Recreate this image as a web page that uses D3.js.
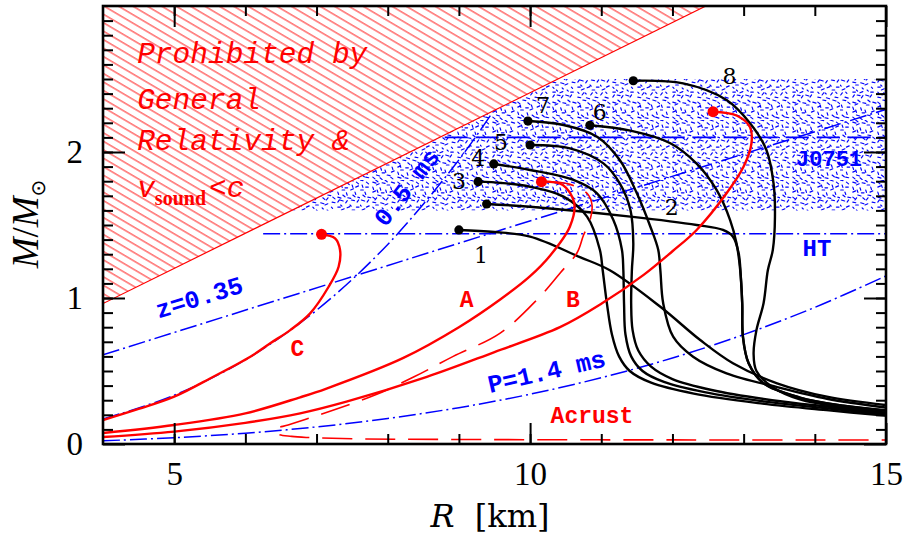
<!DOCTYPE html>
<html>
<head>
<meta charset="utf-8">
<script src="https://cdn.jsdelivr.net/npm/d3@7"></script>
<style>
  body { margin: 0; background: #fff; }
  svg { display: block; }
</style>
</head>
<body>
<svg id="chart" width="906" height="537"></svg>
<script>
// ---- data (R in km, M in solar masses) ----
var xDomain = [4, 15];
var yDomain = [0, 3];
var xTicks = [5, 10, 15];
var yTicks = [0, 1, 2];

// causality / GR limit line
var grLimit = [[4, 0.962], [12.47, 3.0]];
// J0751 mass band and marks
var bandM = [1.6, 2.5];
var j0751Line = [[8.8, 2.1], [15, 2.1]];
var htLine = [[6.25, 1.44], [15, 1.44]];

// redshift and spin limits
var z035 = [[4, 0.611], [15, 2.292]];
var p05 = [[4, 0.171], [5, 0.334], [6, 0.577], [7, 0.916], [8, 1.367], [9, 1.946], [9.47, 2.27]];
var p14 = [[4, 0.022], [5, 0.043], [6, 0.074], [7, 0.117], [8, 0.175], [9, 0.249], [10, 0.341],
           [11, 0.454], [12, 0.589], [13, 0.749], [14, 0.936], [15, 1.151]];

// neutron star EOS curves, first point = maximum mass
var eos1 = [[9.0, 1.466], [9.5, 1.452], [10.0, 1.42], [10.7, 1.28], [11.12, 1.19], [11.83, 0.94],
            [12.39, 0.712], [12.85, 0.553], [13.47, 0.416], [14.17, 0.324], [14.99, 0.267]];
var eos2 = [[9.39, 1.644], [10.0, 1.625], [11.41, 1.557], [12.34, 1.5], [12.71, 1.466], [12.85, 1.42],
            [12.93, 1.306], [12.96, 1.15], [12.98, 0.964], [12.99, 0.735], [13.07, 0.553],
            [13.28, 0.416], [13.79, 0.318], [14.4, 0.262], [14.99, 0.232]];
var eos3 = [[9.27, 1.797], [9.6, 1.788], [10.0, 1.762], [10.47, 1.694], [10.8, 1.557], [10.98, 1.33],
            [11.02, 1.19], [11.08, 0.96], [11.15, 0.75], [11.25, 0.6], [11.4, 0.5], [11.7, 0.42],
            [12.3, 0.345], [13.2, 0.28], [14.2, 0.23], [14.99, 0.195]];
var eos4 = [[9.49, 1.918], [10.0, 1.877], [10.6, 1.81], [10.94, 1.717], [11.17, 1.534], [11.29, 1.33],
            [11.31, 1.19], [11.32, 0.96], [11.34, 0.75], [11.42, 0.6], [11.58, 0.5], [11.88, 0.425],
            [12.45, 0.355], [13.3, 0.29], [14.2, 0.243], [14.99, 0.205]];
var eos5 = [[10.0, 2.048], [10.56, 2.025], [11.03, 1.922], [11.26, 1.785], [11.41, 1.603], [11.45, 1.375],
            [11.43, 1.19], [11.42, 0.96], [11.44, 0.78], [11.52, 0.64], [11.7, 0.53], [12.0, 0.445],
            [12.55, 0.37], [13.4, 0.3], [14.2, 0.255], [14.99, 0.215]];
var eos6 = [[10.84, 2.183], [11.41, 2.146], [11.97, 2.06], [12.34, 1.92], [12.62, 1.74], [12.81, 1.534],
            [12.9, 1.375], [12.95, 1.2], [12.98, 0.964], [12.99, 0.735], [13.07, 0.553],
            [13.28, 0.416], [13.79, 0.318], [14.4, 0.262], [14.99, 0.228]];
var eos7 = [[9.97, 2.212], [10.47, 2.185], [10.94, 2.105], [11.26, 1.945], [11.5, 1.717], [11.69, 1.488],
            [11.8, 1.33], [11.83, 1.19], [11.87, 0.964], [12.01, 0.735], [12.29, 0.598], [12.76, 0.484],
            [13.47, 0.39], [14.17, 0.31], [14.99, 0.25]];
var eos8 = [[11.45, 2.488], [12.15, 2.47], [12.76, 2.356], [13.09, 2.197], [13.32, 2.014], [13.42, 1.786],
            [13.44, 1.557], [13.41, 1.33], [13.34, 1.19], [13.28, 0.964], [13.18, 0.78], [13.14, 0.62],
            [13.18, 0.5], [13.42, 0.385], [13.79, 0.305], [14.4, 0.25], [14.99, 0.215]];
var eosNames = ["1", "2", "3", "4", "5", "6", "7", "8"];

// strange star curves, last point = maximum mass
var ssA = [[4, 0.075], [5, 0.13], [6, 0.21], [6.77, 0.32], [7.14, 0.38], [8.22, 0.59], [9.0, 0.8],
           [9.58, 0.99], [10.0, 1.15], [10.28, 1.29], [10.56, 1.49], [10.62, 1.65], [10.46, 1.774],
           [10.16, 1.797]];
var ssB = [[4, 0.048], [5, 0.085], [6, 0.145], [6.77, 0.21], [7.42, 0.29], [8.55, 0.46], [9.5, 0.63],
           [10.42, 0.8], [11.0, 0.96], [11.6, 1.16], [12.0, 1.32], [12.34, 1.466], [12.76, 1.717],
           [13.0, 1.9], [13.11, 2.06], [13.09, 2.17], [12.9, 2.25], [12.57, 2.276]];
var ssC = [[4, 0.164], [4.5, 0.24], [5.0, 0.324], [5.55, 0.461], [6.07, 0.598], [6.35, 0.69],
           [6.63, 0.78], [6.91, 0.895], [7.17, 1.077], [7.31, 1.214], [7.33, 1.329], [7.26, 1.409],
           [7.07, 1.436]];
var ssAcrust = [[10.2, 1.8], [10.55, 1.78], [10.8, 1.717], [10.87, 1.637], [10.84, 1.53], [10.75, 1.43],
                [10.66, 1.31], [10.42, 1.17], [10.1, 0.99], [9.58, 0.76], [8.92, 0.6], [8.37, 0.46],
                [7.82, 0.335], [7.24, 0.233], [6.85, 0.17], [6.6, 0.13], [6.42, 0.1], [6.45, 0.07],
                [6.65, 0.052], [6.9, 0.044], [7.5, 0.036], [9, 0.031], [12, 0.028], [15, 0.027]];

// ---- layout ----
var svg = d3.select("#chart");
var padL = 103, padR = 886, padT = 6, padB = 444;

var x = d3.scaleLinear().domain(xDomain).range([padL, padR]);
var y = d3.scaleLinear().domain(yDomain).range([padB, padT]);

var RED = "#ff0000", BLUE = "#0000ff";
var monoFont = "'Liberation Mono', 'DejaVu Sans Mono', monospace";
var serifFont = "'Liberation Serif', 'DejaVu Serif', serif";
var dvSerif = "'DejaVu Serif', 'Liberation Serif', serif";

var defs = svg.append("defs");
defs.append("clipPath").attr("id", "plotClip")
  .append("rect").attr("x", padL).attr("y", padT)
  .attr("width", padR - padL).attr("height", padB - padT);

// red hatch
var hatch = defs.append("pattern").attr("id", "hatch")
  .attr("patternUnits", "userSpaceOnUse")
  .attr("width", 10).attr("height", 7.3)
  .attr("patternTransform", "rotate(30.5)");
hatch.append("line").attr("x1", 0).attr("x2", 10).attr("y1", 3.6).attr("y2", 3.6)
  .attr("stroke", RED).attr("stroke-width", 0.9);

// blue speckle texture: short strokes on an irregular lattice
var cell = 5, nCell = 12;
var speck = defs.append("pattern").attr("id", "speck")
  .attr("patternUnits", "userSpaceOnUse")
  .attr("width", cell * nCell).attr("height", cell * nCell);
var strokeDirs = [[3, 0.6], [2.2, 1.8], [2.8, -1.2], [0.8, 2.4], [3.2, 1.0], [1.6, -2.2], [2.6, 0], [1.2, 1.2]];
for (var i = 0; i < nCell; i++) {
  for (var j = 0; j < nCell; j++) {
    var ox = (i * 7 + j * 3 + i * j) % 5, oy = (i * 2 + j * 5 + i * i) % 5;
    var dv = strokeDirs[(i * i + 3 * j + 2 * i * j) % strokeDirs.length];
    var sx = i * cell + ox * 0.7, sy = j * cell + oy * 0.7;
    speck.append("line").attr("x1", sx).attr("y1", sy)
      .attr("x2", sx + dv[0]).attr("y2", sy + dv[1])
      .attr("stroke", BLUE).attr("stroke-width", 1.15).attr("stroke-linecap", "round");
  }
}

var plot = svg.append("g").attr("clip-path", "url(#plotClip)");

var smooth = d3.line().x(function(d){ return x(d[0]); }).y(function(d){ return y(d[1]); })
  .curve(d3.curveCatmullRom.alpha(0.5));
var straight = d3.line().x(function(d){ return x(d[0]); }).y(function(d){ return y(d[1]); });

// R on the GR line for a given mass
function grR(m) {
  var a = grLimit[0], b = grLimit[1];
  return a[0] + (m - a[1]) * (b[0] - a[0]) / (b[1] - a[1]);
}

// J0751 band
var bandPoly = [[grR(bandM[0]), bandM[0]], [xDomain[1], bandM[0]], [xDomain[1], bandM[1]], [grR(bandM[1]), bandM[1]]];
plot.append("path").attr("d", straight(bandPoly) + "Z").attr("fill", "url(#speck)");

// prohibited region
var hatchPoly = [grLimit[0], grLimit[1], [xDomain[0], yDomain[1]]];
plot.append("path").attr("d", straight(hatchPoly) + "Z").attr("fill", "url(#hatch)");
plot.append("path").attr("d", straight(grLimit)).attr("fill", "none")
  .attr("stroke", RED).attr("stroke-width", 1.2);

// blue limit lines
var dashDot = "17,4,2,4";
[z035, htLine].forEach(function(d){
  plot.append("path").attr("d", straight(d)).attr("fill", "none")
    .attr("stroke", BLUE).attr("stroke-width", 1.5).attr("stroke-dasharray", dashDot);
});
[p05, p14].forEach(function(d){
  plot.append("path").attr("d", smooth(d)).attr("fill", "none")
    .attr("stroke", BLUE).attr("stroke-width", 1.5).attr("stroke-dasharray", dashDot);
});
plot.append("path").attr("d", straight(j0751Line)).attr("fill", "none")
  .attr("stroke", BLUE).attr("stroke-width", 1.6).attr("stroke-dasharray", "23,8");

// EOS curves
var eosList = [eos1, eos2, eos3, eos4, eos5, eos6, eos7, eos8];
eosList.forEach(function(d){
  plot.append("path").attr("d", smooth(d)).attr("fill", "none")
    .attr("stroke", "#000").attr("stroke-width", 2.4);
});

// strange stars
plot.append("path").attr("d", smooth(ssAcrust)).attr("fill", "none")
  .attr("stroke", RED).attr("stroke-width", 1.6).attr("stroke-dasharray", "30,13");
[ssA, ssB, ssC].forEach(function(d){
  plot.append("path").attr("d", smooth(d)).attr("fill", "none")
    .attr("stroke", RED).attr("stroke-width", 2.4);
});

// max-mass dots
plot.selectAll(".eosDot").data(eosList).enter().append("circle")
  .attr("cx", function(d){ return x(d[0][0]); })
  .attr("cy", function(d){ return y(d[0][1]); })
  .attr("r", 4.6).attr("fill", "#000");
plot.selectAll(".ssDot").data([ssA, ssB, ssC]).enter().append("circle")
  .attr("cx", function(d){ return x(d[d.length - 1][0]); })
  .attr("cy", function(d){ return y(d[d.length - 1][1]); })
  .attr("r", 5.5).attr("fill", RED);

// ---- labels ----
var eosLabelAt = [[9.31, 1.295], [11.99, 1.623], [9.0, 1.801], [9.27, 1.959],
                  [9.59, 2.068], [10.98, 2.274], [10.18, 2.322], [12.8, 2.521]];
eosNames.forEach(function(t, i){
  svg.append("text").attr("x", x(eosLabelAt[i][0])).attr("y", y(eosLabelAt[i][1]))
    .attr("dy", "0.36em").attr("text-anchor", "middle")
    .style("font-family", dvSerif).style("font-size", "22px").attr("fill", "#000")
    .text(t);
});

function label(t, r, m, color, size, rot) {
  svg.append("text")
    .attr("transform", "translate(" + x(r) + "," + y(m) + ") rotate(" + (rot || 0) + ")")
    .attr("dy", "0.35em").attr("text-anchor", "middle")
    .style("font-family", monoFont).style("font-size", size + "px").style("font-weight", "bold")
    .attr("fill", color).text(t);
}
label("A", 9.11, 0.993, RED, 23);
label("B", 10.6, 0.993, RED, 23);
label("C", 6.73, 0.658, RED, 23);
label("Acrust", 10.87, 0.2, RED, 23);
label("HT", 14.03, 1.342, BLUE, 24);
label("J0751", 14.2, 1.959, BLUE, 22);
label("z=0.35", 5.35, 1.007, BLUE, 25, -17);
label("P=1.4 ms", 10.23, 0.5, BLUE, 25, -13);
label("0.5 ms", 8.26, 1.76, BLUE, 25, -52);

// prohibited text block
var proLines = [["Prohibited by", 2.61], ["General", 2.295], ["Relativity &", 2.014]];
proLines.forEach(function(p){
  svg.append("text").attr("x", x(4.48)).attr("y", y(p[1]))
    .style("font-family", monoFont).style("font-size", "29.5px").style("font-style", "italic")
    .attr("fill", RED).text(p[0]);
});
var vs = svg.append("text").attr("x", x(4.48)).attr("y", y(1.692))
  .style("font-family", monoFont).style("font-size", "29.5px").style("font-style", "italic")
  .attr("fill", RED);
vs.append("tspan").text("v");
vs.append("tspan").attr("dy", 8).style("font-size", "20px").style("font-style", "normal")
  .style("font-weight", "bold").style("font-family", serifFont).text("sound");
vs.append("tspan").attr("dy", -8).attr("dx", 3).text("<c");

// ---- axes ----
var axes = svg.append("g");
function styleAxis(g) {
  g.select(".domain").remove();
  g.selectAll("line").attr("stroke", "#000").attr("stroke-width", 2);
  g.selectAll("text").style("font-family", serifFont).style("font-size", "33px").attr("fill", "#000");
}
var xMinor = d3.range(5, 15, 1);
var yMinor = d3.range(1, 30).map(function(v){ return v / 10; });

axes.append("g").attr("transform", "translate(0," + padB + ")")
  .call(d3.axisBottom(x).tickValues(xMinor).tickSize(-10).tickFormat("")).call(styleAxis);
axes.append("g").attr("transform", "translate(0," + padB + ")")
  .call(d3.axisBottom(x).tickValues(xTicks).tickSize(-21).tickPadding(18).tickFormat(d3.format("d")))
  .call(styleAxis);
axes.append("g").attr("transform", "translate(0," + padT + ")")
  .call(d3.axisTop(x).tickValues(xMinor).tickSize(-10).tickFormat("")).call(styleAxis);
axes.append("g").attr("transform", "translate(0," + padT + ")")
  .call(d3.axisTop(x).tickValues(xTicks).tickSize(-21).tickFormat("")).call(styleAxis);
axes.append("g").attr("transform", "translate(" + padL + ",0)")
  .call(d3.axisLeft(y).tickValues(yMinor).tickSize(-10).tickFormat("")).call(styleAxis);
axes.append("g").attr("transform", "translate(" + padL + ",0)")
  .call(d3.axisLeft(y).tickValues(yTicks).tickSize(-22).tickPadding(20).tickFormat(d3.format("d")))
  .call(styleAxis);
axes.append("g").attr("transform", "translate(" + padR + ",0)")
  .call(d3.axisRight(y).tickValues(yMinor).tickSize(-10).tickFormat("")).call(styleAxis);
axes.append("g").attr("transform", "translate(" + padR + ",0)")
  .call(d3.axisRight(y).tickValues(yTicks).tickSize(-22).tickFormat("")).call(styleAxis);

axes.append("rect").attr("x", padL).attr("y", padT)
  .attr("width", padR - padL).attr("height", padB - padT)
  .attr("fill", "none").attr("stroke", "#000").attr("stroke-width", 2.6);

// axis titles
var xt = svg.append("text").attr("x", 490).attr("y", 527).attr("text-anchor", "middle")
  .style("font-family", dvSerif).style("font-size", "32px").attr("fill", "#000");
xt.append("tspan").style("font-style", "italic").text("R");
xt.append("tspan").text("\u00a0\u00a0[km]");

var yt = svg.append("text").attr("transform", "translate(38,224) rotate(-90)")
  .attr("text-anchor", "middle")
  .style("font-family", serifFont).style("font-size", "37px").attr("fill", "#000");
yt.append("tspan").style("font-style", "italic").text("M");
yt.append("tspan").text("/");
yt.append("tspan").style("font-style", "italic").text("M");
yt.append("tspan").attr("dy", 7).style("font-size", "20px")
  .style("font-family", "'DejaVu Sans', sans-serif").text("\u2299");
</script>
</body>
</html>
